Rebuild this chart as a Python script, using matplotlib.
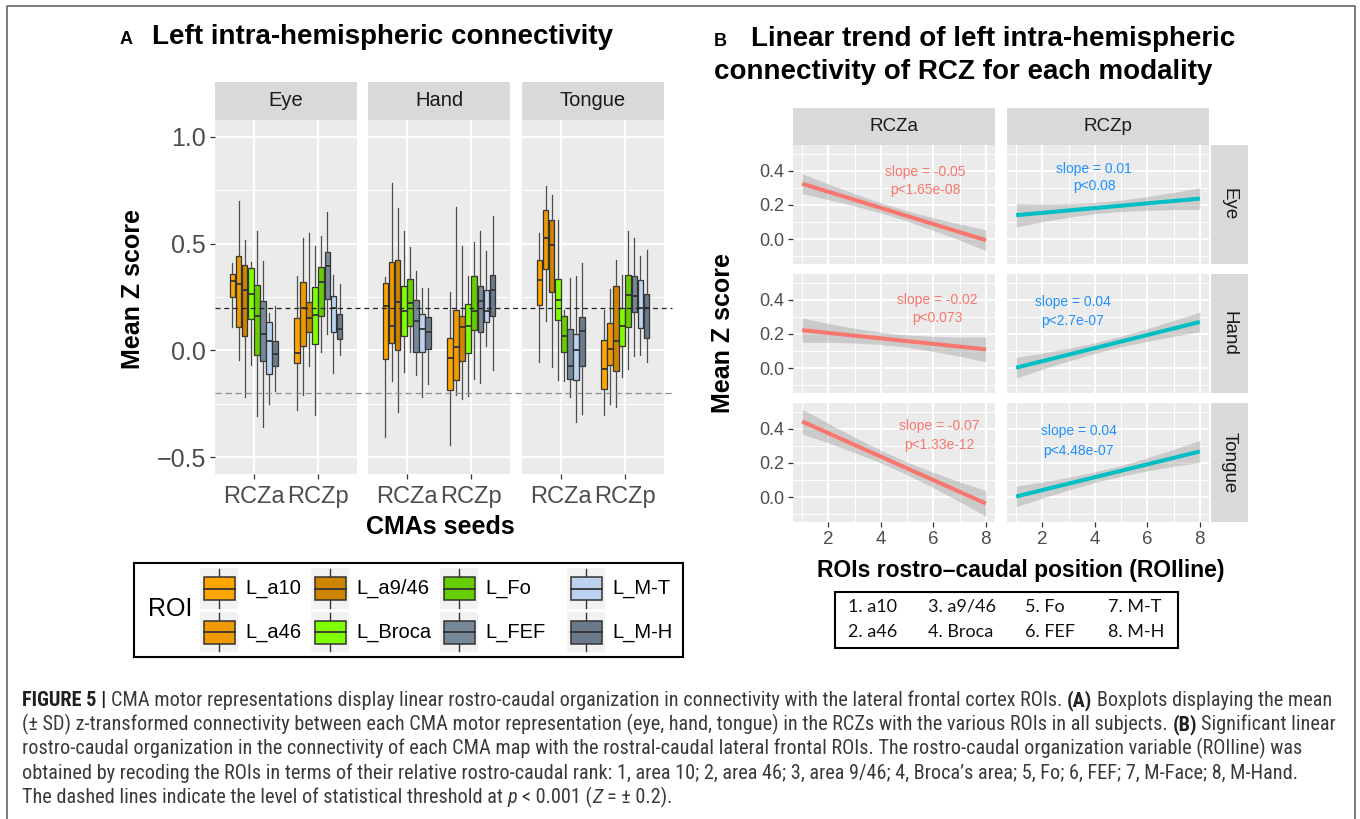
import numpy as np
import matplotlib
matplotlib.use('Agg')
import matplotlib.pyplot as plt
from matplotlib import font_manager
from matplotlib.patches import Rectangle
from matplotlib.lines import Line2D
from matplotlib.transforms import blended_transform_factory

plt.rcParams['font.family'] = ['Liberation Sans', 'DejaVu Sans']

W, H = 1360, 819

# ---------------- panel A data: (lower whisker, Q1, median, Q3, upper whisker)
modalities = ['Eye', 'Hand', 'Tongue']
seeds = ['RCZa', 'RCZp']
rois = ['L_a10', 'L_a46', 'L_a9/46', 'L_Broca', 'L_Fo', 'L_FEF', 'L_M-T', 'L_M-H']
roi_colors = ['#FFA500', '#EE9A00', '#CD8500', '#7FFF00', '#66CD00',
              '#778899', '#BCD2EE', '#6C7B8B']

eye_rcza = [(0.11, 0.25, 0.327, 0.358, 0.41), (-0.047, 0.109, 0.3125, 0.444, 0.70),
            (-0.219, 0.069, 0.284, 0.398, 0.516), (-0.07, 0.148, 0.264, 0.384, 0.4125),
            (-0.306, -0.022, 0.1625, 0.306, 0.558), (-0.36, -0.05, 0.077, 0.23, 0.42),
            (-0.25, -0.109, 0.042, 0.134, 0.175), (-0.19, -0.073, -0.017, 0.045, 0.206)]
eye_rczp = [(-0.278, -0.059, -0.0125, 0.152, 0.347), (-0.208, 0.019, 0.2, 0.32, 0.527),
            (-0.075, 0.084, 0.15, 0.228, 0.55), (-0.30, 0.03, 0.167, 0.295, 0.49),
            (-0.008, 0.159, 0.32, 0.389, 0.534), (0.078, 0.242, 0.394, 0.461, 0.647),
            (-0.106, 0.086, 0.197, 0.253, 0.355), (-0.02, 0.053, 0.1, 0.17, 0.3125)]
hand_rcza = [(-0.406, -0.041, 0.206, 0.316, 0.342), (-0.145, 0.034, 0.1125, 0.4125, 0.784),
             (-0.286, 0.003, 0.225, 0.422, 0.667), (-0.103, 0.066, 0.183, 0.30, 0.558),
             (-0.009, 0.1125, 0.222, 0.334, 0.483), (-0.117, -0.008, 0.14, 0.2375, 0.37),
             (-0.219, -0.008, 0.10, 0.172, 0.292), (-0.158, 0.006, 0.086, 0.155, 0.292)]
hand_rczp = [(-0.442, -0.184, -0.036, 0.058, 0.272), (-0.208, -0.1375, 0.016, 0.1875, 0.672),
             (-0.228, -0.048, 0.108, 0.1625, 0.49), (-0.2125, -0.0125, 0.1125, 0.217, 0.347),
             (-0.134, 0.097, 0.183, 0.347, 0.506), (-0.15, 0.0875, 0.23, 0.303, 0.561),
             (0.022, 0.134, 0.183, 0.281, 0.467), (-0.09, 0.159, 0.281, 0.352, 0.628)]
tongue_rcza = [(-0.052, 0.211, 0.328, 0.422, 0.55), (0.136, 0.381, 0.527, 0.659, 0.769),
               (-0.078, 0.273, 0.492, 0.609, 0.725), (-0.1375, 0.144, 0.2375, 0.334, 0.6125),
               (-0.145, -0.005, 0.069, 0.159, 0.19), (-0.219, -0.134, -0.075, 0.10, 0.339),
               (-0.333, -0.14, 0.0, 0.077, 0.35), (-0.297, -0.072, 0.092, 0.155, 0.409)]
tongue_rczp = [(-0.30, -0.181, -0.0875, 0.047, 0.1875), (-0.25, -0.07, 0.006, 0.128, 0.2875),
               (-0.2625, -0.098, 0.042, 0.30, 0.425), (-0.125, 0.019, 0.116, 0.20, 0.355),
               (-0.0875, 0.109, 0.258, 0.355, 0.558), (-0.028, 0.18, 0.256, 0.35, 0.527),
               (-0.02, 0.105, 0.198, 0.328, 0.444), (-0.052, 0.058, 0.2, 0.266, 0.472)]
box_data = {'Eye': [eye_rcza, eye_rczp], 'Hand': [hand_rcza, hand_rczp],
            'Tongue': [tongue_rcza, tongue_rczp]}
thresholds = [0.2, -0.2]

# ---------------- panel B data: fitted lines (at ROIline 1 and 8) and 95% bands
roi_line = [1, 2, 3, 4, 5, 6, 7, 8]
fit_x = [1, 8]
eye_rcza_fit = [0.324, -0.006]
eye_rczp_fit = [0.140, 0.237]
hand_rcza_fit = [0.222, 0.110]
hand_rczp_fit = [0.003, 0.270]
tongue_rcza_fit = [0.442, -0.037]
tongue_rczp_fit = [0.004, 0.267]
eye_rcza_lo = [0.266, 0.231, 0.194, 0.153, 0.106, 0.051, -0.006, -0.067]
eye_rcza_hi = [0.382, 0.323, 0.266, 0.213, 0.166, 0.125, 0.088, 0.055]
eye_rczp_lo = [0.072, 0.102, 0.128, 0.149, 0.162, 0.169, 0.173, 0.174]
eye_rczp_hi = [0.208, 0.206, 0.208, 0.215, 0.228, 0.249, 0.273, 0.300]
hand_rcza_lo = [0.151, 0.151, 0.147, 0.138, 0.122, 0.098, 0.070, 0.037]
hand_rcza_hi = [0.293, 0.261, 0.233, 0.210, 0.194, 0.186, 0.182, 0.183]
hand_rczp_lo = [-0.057, -0.006, 0.042, 0.086, 0.125, 0.157, 0.186, 0.212]
hand_rczp_hi = [0.063, 0.088, 0.116, 0.148, 0.187, 0.231, 0.278, 0.328]
tongue_rcza_lo = [0.369, 0.317, 0.260, 0.200, 0.131, 0.055, -0.026, -0.112]
tongue_rcza_hi = [0.515, 0.431, 0.350, 0.274, 0.205, 0.145, 0.090, 0.038]
tongue_rczp_lo = [-0.056, -0.005, 0.042, 0.086, 0.123, 0.154, 0.181, 0.202]
tongue_rczp_hi = [0.064, 0.089, 0.116, 0.148, 0.185, 0.230, 0.279, 0.332]
fits = {'Eye': [eye_rcza_fit, eye_rczp_fit], 'Hand': [hand_rcza_fit, hand_rczp_fit],
        'Tongue': [tongue_rcza_fit, tongue_rczp_fit]}
bands = {'Eye': [(eye_rcza_lo, eye_rcza_hi), (eye_rczp_lo, eye_rczp_hi)],
         'Hand': [(hand_rcza_lo, hand_rcza_hi), (hand_rczp_lo, hand_rczp_hi)],
         'Tongue': [(tongue_rcza_lo, tongue_rcza_hi), (tongue_rczp_lo, tongue_rczp_hi)]}
slopes = {'Eye': ['slope = -0.05', 'slope = 0.01'], 'Hand': ['slope = -0.02', 'slope = 0.04'],
          'Tongue': ['slope = -0.07', 'slope = 0.04']}
pvals = {'Eye': ['p<1.65e-08', 'p<0.08'], 'Hand': ['p<0.073', 'p<2.7e-07'],
         'Tongue': ['p<1.33e-12', 'p<4.48e-07']}
roi_short = ['a10', 'a46', 'a9/46', 'Broca', 'Fo', 'FEF', 'M-T', 'M-H']

# label anchor (x, y of slope line, y of p line) per panel
label_pos = {'Eye': [(5.68, 0.395, 0.29), (3.98, 0.41, 0.31)],
             'Hand': [(6.17, 0.397, 0.294), (3.15, 0.385, 0.275)],
             'Tongue': [(6.21, 0.417, 0.306), (3.38, 0.384, 0.27)]}
line_colors = ['#F8766D', '#00BFC4']
text_colors = ['#F8766D', '#1E90FF']


def px_rect(x0, y0, x1, y1):
    return [x0 / W, 1 - y1 / H, (x1 - x0) / W, (y1 - y0) / H]


def fy(y):
    return 1 - y / H


fig = plt.figure(figsize=(13.6, 8.19), dpi=100)
fig.patch.set_facecolor('white')


def gg_axes(rect):
    ax = fig.add_axes(px_rect(*rect))
    ax.set_facecolor('#EBEBEB')
    for s in ax.spines.values():
        s.set_visible(False)
    ax.set_axisbelow(True)
    ax.grid(True, which='major', color='white', lw=1.4)
    ax.grid(True, which='minor', color='white', lw=0.7)
    ax.tick_params(which='major', color='#333333', length=3.5, width=0.9,
                   labelcolor='#4D4D4D', pad=3)
    ax.tick_params(which='minor', length=0)
    return ax


def strip(rect, label, size, rotation=0):
    ax = fig.add_axes(px_rect(*rect))
    ax.set_facecolor('#D9D9D9')
    for s in ax.spines.values():
        s.set_visible(False)
    ax.set_xticks([])
    ax.set_yticks([])
    ax.text(0.5, 0.5, label, ha='center', va='center', fontsize=size,
            color='#1A1A1A', rotation=rotation, transform=ax.transAxes)
    return ax


# ================= Panel A =================
fig.text(120 / W, fy(43.5), 'A', fontsize=13, fontweight='bold', va='baseline')
fig.text(152 / W, fy(43.5), 'Left intra-hemispheric connectivity', fontsize=20,
         fontweight='bold', va='baseline')

a_cols = [(215, 357), (368, 510), (522, 664)]
offsets = (np.arange(len(rois)) - 3.5) * 0.094
axes_a = []
for k, mod in enumerate(modalities):
    x0, x1 = a_cols[k]
    ax = gg_axes((x0, 120, x1, 474))
    strip((x0, 82, x1, 120), mod, 14.5)
    for si, seed_stats in enumerate(box_data[mod]):
        stats = [dict(whislo=s[0], q1=s[1], med=s[2], q3=s[3], whishi=s[4]) for s in seed_stats]
        bp = ax.bxp(stats, positions=si + 1 + offsets, widths=0.088, patch_artist=True,
                    showcaps=False, showfliers=False, manage_ticks=False,
                    boxprops=dict(edgecolor='#333333', lw=0.9),
                    medianprops=dict(color='#333333', lw=1.3),
                    whiskerprops=dict(color='#4D4D4D', lw=0.9))
        for patch, c in zip(bp['boxes'], roi_colors):
            patch.set_facecolor(c)
    ax.set_xlim(0.4, 2.6)
    ax.set_ylim(-0.578, 1.078)
    ax.set_xticks([1, 2])
    ax.set_xticklabels(seeds, fontsize=17)
    ax.set_yticks([-0.5, 0.0, 0.5, 1.0])
    ax.set_yticks([-0.25, 0.25, 0.75], minor=True)
    if k == 0:
        ax.set_yticklabels(['\u22120.5', '0.0', '0.5', '1.0'], fontsize=18)
    else:
        ax.tick_params(axis='y', which='major', length=0, labelleft=False)
    ax.tick_params(axis='x', pad=5)
    axes_a.append(ax)

# dashed threshold lines
tr = blended_transform_factory(fig.transFigure, axes_a[0].transData)
fig.add_artist(Line2D([215 / W, 672 / W], [thresholds[0]] * 2, transform=tr,
                      color='#222222', lw=0.9, ls=(0, (4, 3)), zorder=5))
fig.add_artist(Line2D([215 / W, 672 / W], [thresholds[1]] * 2, transform=tr,
                      color='#8C8C8C', lw=0.9, ls=(0, (5, 3)), zorder=5))

fig.text(133 / W, fy(289), 'Mean Z score', fontsize=18, fontweight='bold',
         rotation=90, ha='center', va='center')
fig.text(440 / W, fy(527), 'CMAs seeds', fontsize=18, fontweight='bold',
         ha='center', va='center')

# legend A
lg = fig.add_axes(px_rect(134, 563, 683, 657))
lg.set_xlim(134, 683)
lg.set_ylim(657, 563)
lg.set_xticks([])
lg.set_yticks([])
for s in lg.spines.values():
    s.set_color('black')
    s.set_linewidth(1.5)
lg.text(148, 609, 'ROI', fontsize=18, va='center', ha='left')
key_x = [200, 311, 440, 567]
key_rows = [(568, 609), (612, 652)]
for i, (name, c) in enumerate(zip(rois, roi_colors)):
    col, row = i // 2, i % 2
    kx = key_x[col]
    ky0, ky1 = key_rows[row]
    yc = (ky0 + ky1) / 2
    lg.add_patch(Rectangle((kx, ky0), 38, ky1 - ky0, facecolor='#F2F2F2', lw=0))
    lg.plot([kx + 19, kx + 19], [ky0 + 1, ky1 - 1], color='#333333', lw=1.0)
    lg.add_patch(Rectangle((kx + 3.5, yc - 11.5), 31, 23, facecolor=c,
                           edgecolor='#333333', lw=1.1, zorder=3))
    lg.plot([kx + 3.5, kx + 34.5], [yc, yc], color='#333333', lw=1.3, zorder=4)
    lg.text(kx + 45, yc, name, fontsize=14.5, va='center', ha='left')

# ================= Panel B =================
fig.text(714 / W, fy(46), 'B', fontsize=13, fontweight='bold', va='baseline')
fig.text(751 / W, fy(46), 'Linear trend of left intra-hemispheric', fontsize=20,
         fontweight='bold', va='baseline')
fig.text(714 / W, fy(79), 'connectivity of RCZ for each modality', fontsize=20,
         fontweight='bold', va='baseline')

b_cols = [(793, 995), (1007, 1209)]
b_rows = [(145, 264), (274, 393), (403, 522)]
for ci, seed in enumerate(seeds):
    strip((b_cols[ci][0], 108, b_cols[ci][1], 145), seed, 13.5)
for r, mod in enumerate(modalities):
    y0, y1 = b_rows[r]
    strip((1211, y0, 1248, y1), mod, 13.5, rotation=-90)
    for ci, seed in enumerate(seeds):
        x0, x1 = b_cols[ci]
        ax = gg_axes((x0, y0, x1, y1))
        lo, hi = bands[mod][ci]
        ax.fill_between(roi_line, lo, hi, color='#999999', alpha=0.4, lw=0)
        ax.plot(fit_x, fits[mod][ci], color=line_colors[ci], lw=2.9, solid_capstyle='butt')
        lx, ly1, ly2 = label_pos[mod][ci]
        ax.text(lx, ly1, slopes[mod][ci], fontsize=10, color=text_colors[ci],
                ha='center', va='center')
        ax.text(lx, ly2, pvals[mod][ci], fontsize=10, color=text_colors[ci],
                ha='center', va='center')
        ax.set_xlim(0.65, 8.35)
        ax.set_ylim(-0.145, 0.55)
        ax.set_xticks([2, 4, 6, 8])
        ax.set_xticks([1, 3, 5, 7], minor=True)
        ax.set_yticks([0.0, 0.2, 0.4])
        ax.set_yticks([-0.1, 0.1, 0.3, 0.5], minor=True)
        if ci == 0:
            ax.set_yticklabels(['0.0', '0.2', '0.4'], fontsize=13)
        else:
            ax.tick_params(axis='y', which='major', length=0, labelleft=False)
        if r == 2:
            ax.set_xticklabels(['2', '4', '6', '8'], fontsize=13.5)
        else:
            ax.tick_params(axis='x', which='major', length=0, labelbottom=False)

fig.text(723 / W, fy(333), 'Mean Z score', fontsize=18, fontweight='bold',
         rotation=90, ha='center', va='center')
fig.text(1021 / W, fy(570), 'ROIs rostro\u2013caudal position (ROIline)', fontsize=16.5,
         fontweight='bold', ha='center', va='center')

# legend B
lb = fig.add_axes(px_rect(835, 592, 1178, 648))
lb.set_xlim(835, 1178)
lb.set_ylim(648, 592)
lb.set_xticks([])
lb.set_yticks([])
for s in lb.spines.values():
    s.set_color('black')
    s.set_linewidth(1.5)
b_key_x = [848, 928, 1025, 1108]
b_key_y = [607, 632]
for i, name in enumerate(roi_short):
    lb.text(b_key_x[i // 2], b_key_y[i % 2], f'{i + 1}. {name}', fontsize=13,
            family=['Lato', 'DejaVu Sans'], va='center', ha='left', color='#111111')

# ================= outer frame =================
fig.add_artist(Line2D([7 / W, 7 / W, 1355 / W, 1355 / W], [0, fy(6), fy(6), 0],
                      transform=fig.transFigure, color='#666666', lw=1.2))

# ================= caption =================
names = {f.name for f in font_manager.fontManager.ttflist}
cap_font = next((n for n in ['Liberation Sans Narrow', 'Roboto Condensed', 'Open Sans Condensed']
                 if n in names), 'Liberation Sans')
cap_lines = [
    [('FIGURE 5 |', 'bold', 'normal'),
     (' CMA motor representations display linear rostro-caudal organization in connectivity '
      'with the lateral frontal cortex ROIs. ', 'normal', 'normal'),
     ('(A)', 'bold', 'normal'), (' Boxplots displaying the mean', 'normal', 'normal')],
    [('(\u00b1 SD) z-transformed connectivity between each CMA motor representation (eye, hand, '
      'tongue) in the RCZs with the various ROIs in all subjects. ', 'normal', 'normal'),
     ('(B)', 'bold', 'normal'), (' Significant linear', 'normal', 'normal')],
    [('rostro-caudal organization in the connectivity of each CMA map with the rostral-caudal '
      'lateral frontal ROIs. The rostro-caudal organization variable (ROIline) was',
      'normal', 'normal')],
    [('obtained by recoding the ROIs in terms of their relative rostro-caudal rank: 1, area 10; '
      '2, area 46; 3, area 9/46; 4, Broca\u2019s area; 5, Fo; 6, FEF; 7, M-Face; 8, M-Hand.',
      'normal', 'normal')],
    [('The dashed lines indicate the level of statistical threshold at ', 'normal', 'normal'),
     ('p', 'normal', 'italic'), (' < 0.001 (', 'normal', 'normal'),
     ('Z', 'normal', 'italic'), (' = \u00b1 0.2).', 'normal', 'normal')],
]
renderer = fig.canvas.get_renderer()


def text_width(s, size, weight, style):
    t = fig.text(0, 0, s, fontsize=size, fontweight=weight, fontstyle=style,
                 family=[cap_font, 'DejaVu Sans'])
    w = t.get_window_extent(renderer).width
    t.remove()
    return w


def draw_runs(runs, x, y, size, draw=True):
    sp = text_width('a a', size, 'normal', 'normal') - text_width('aa', size, 'normal', 'normal')
    for s, weight, style in runs:
        lead = len(s) - len(s.lstrip(' '))
        trail = len(s) - len(s.rstrip(' '))
        core = s.strip(' ')
        x += lead * sp
        color = '#1F1F1F' if weight == 'bold' else '#3A3A3A'
        if draw:
            fig.text(x / W, fy(y), core, fontsize=size, fontweight=weight, fontstyle=style,
                     color=color, va='baseline', ha='left', family=[cap_font, 'DejaVu Sans'])
        x += text_width(core, size, weight, style) + trail * sp
    return x


cap_size = 10.0
for _ in range(4):
    w1 = draw_runs(cap_lines[0], 0, 0, cap_size, draw=False)
    cap_size *= (1334 - 22) / w1
for i, runs in enumerate(cap_lines):
    draw_runs(runs, 22, 706 + 24.3 * i, cap_size)

fig.savefig('out.png', dpi=100, facecolor='white')
